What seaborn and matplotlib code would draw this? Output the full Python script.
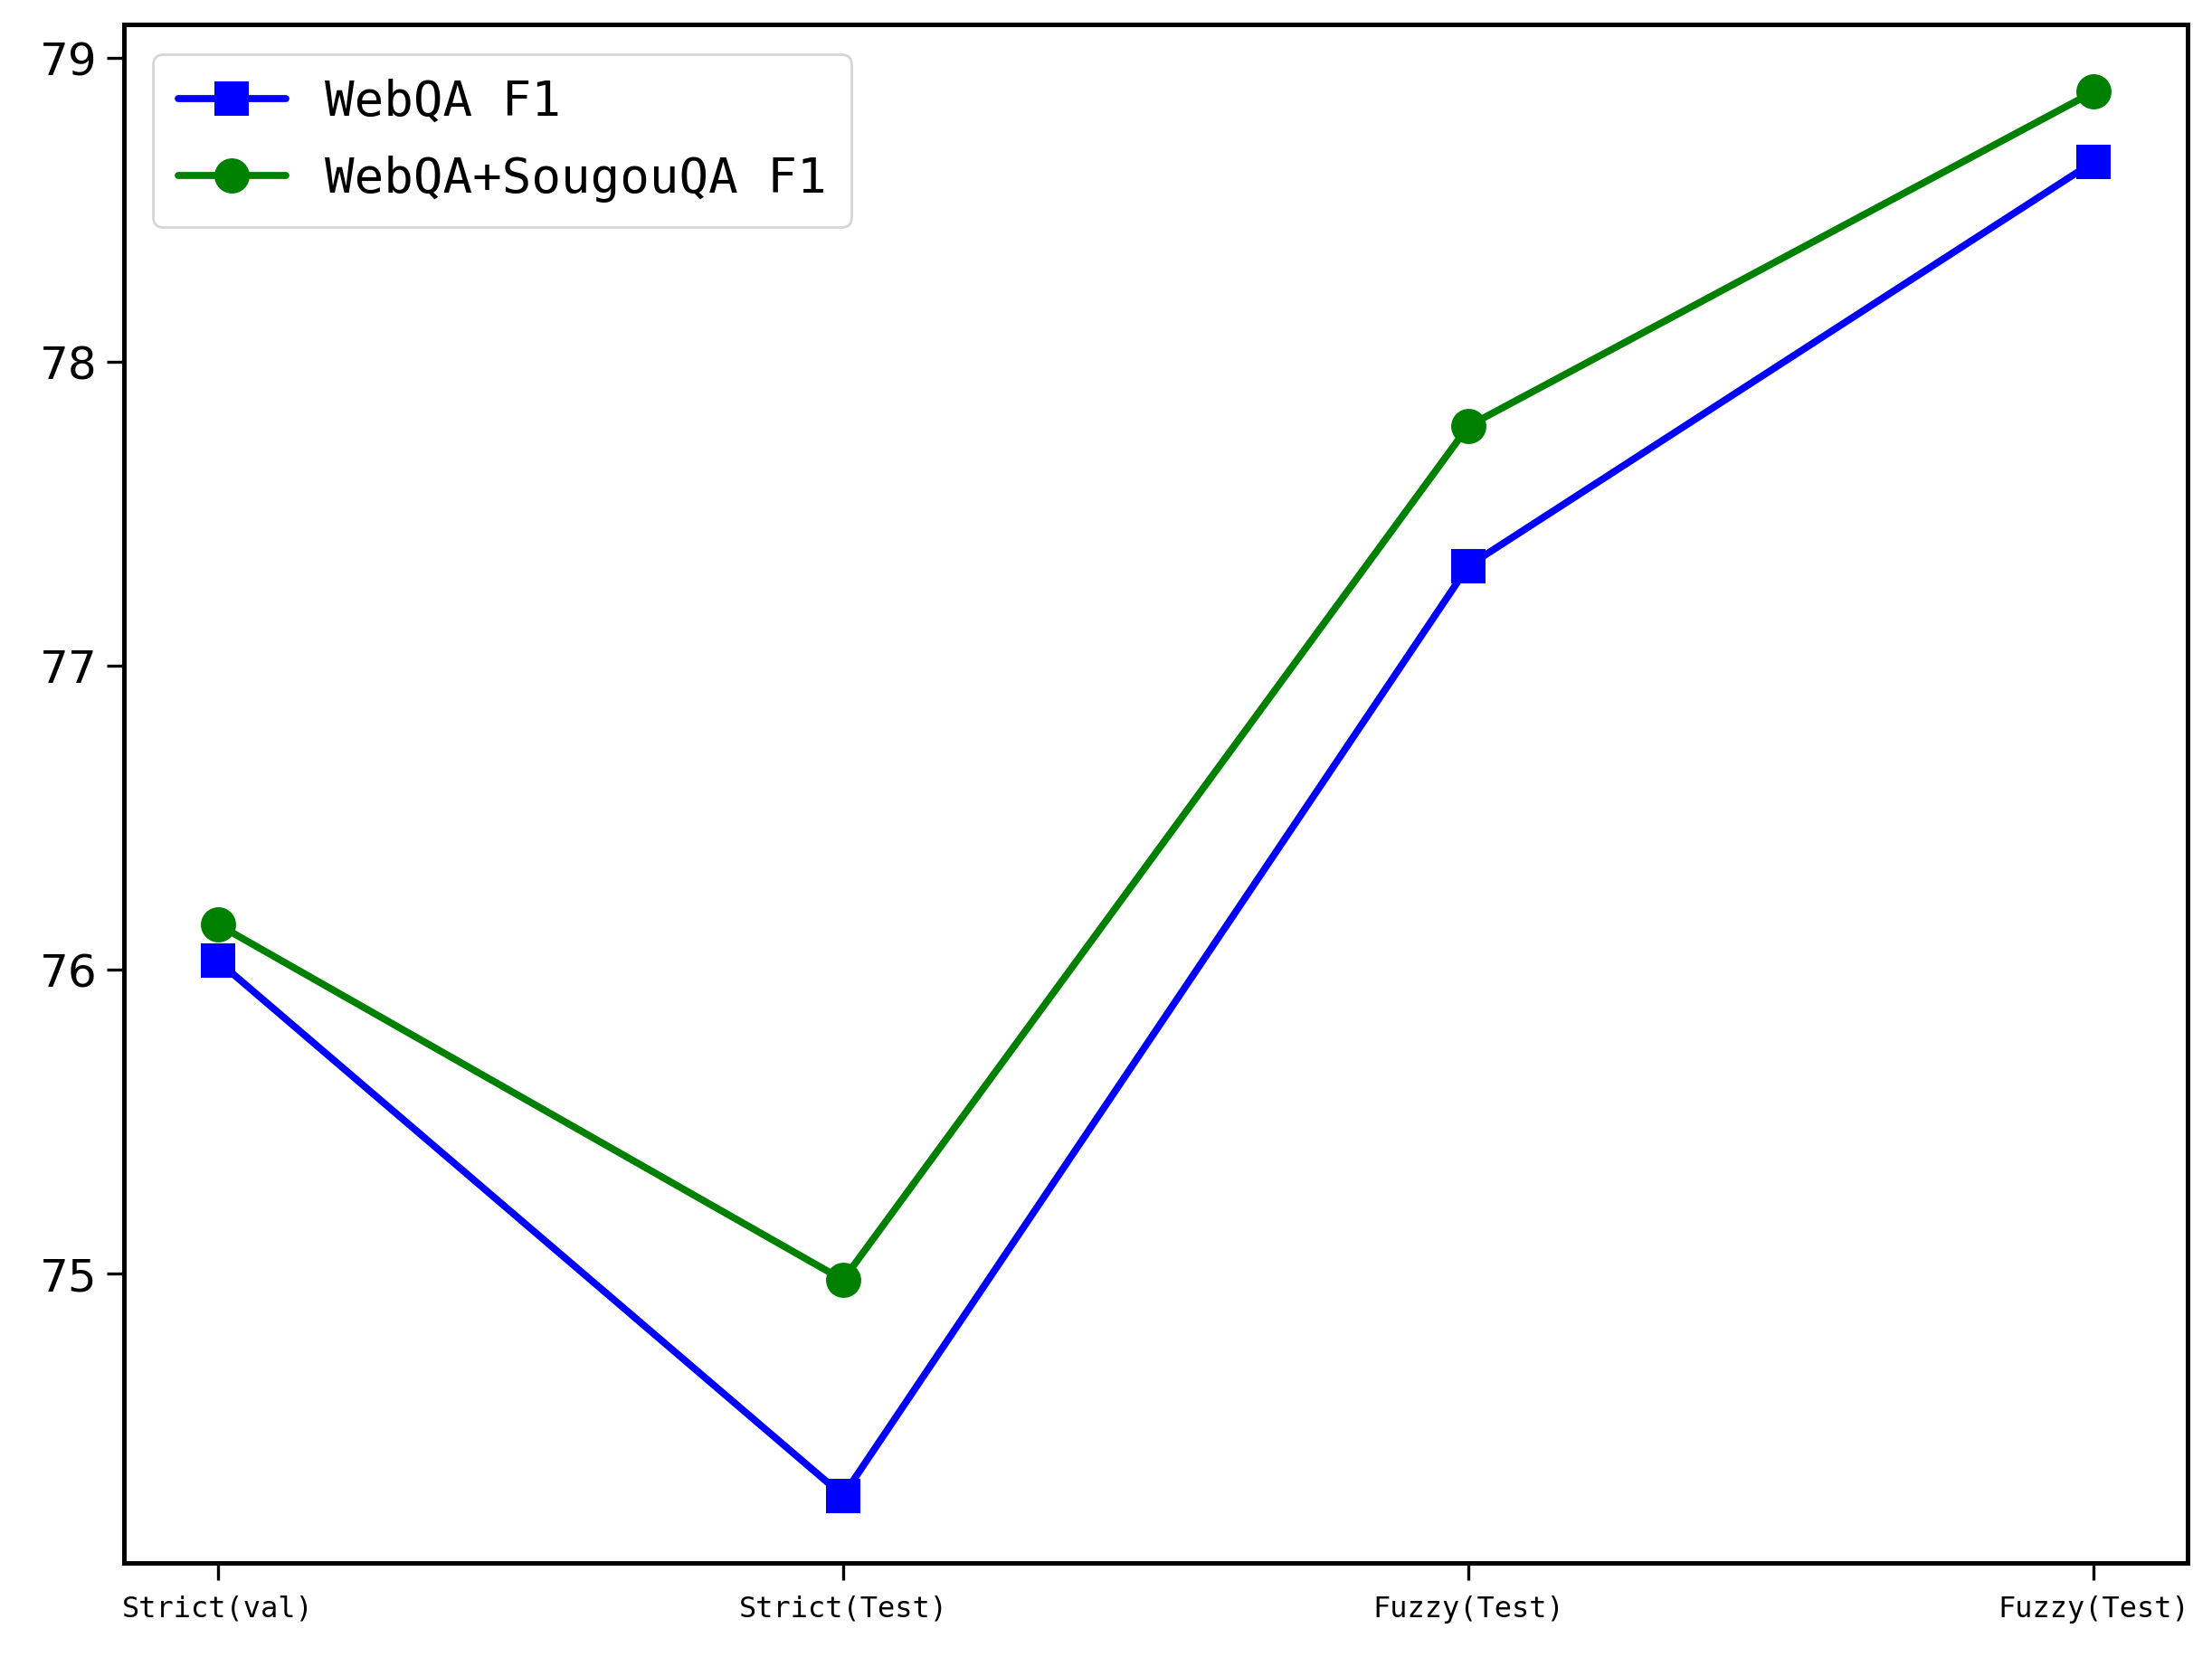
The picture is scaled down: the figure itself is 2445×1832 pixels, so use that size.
import pandas as pd
import numpy as np
import seaborn as sns
import matplotlib.pyplot as plt

categories = ['Strict(val)', 'Strict(Test)', 'Fuzzy(Test)', 'Fuzzy(Test)']
webqa_f1 = [76.03, 74.27, 77.33, 78.66]
webqa_sougou_f1 = [76.15, 74.98, 77.79, 78.89]
series_names = ['WebQA F1', 'WebQA+SougouQA F1']

rows = []
for name, vals in zip(series_names, [webqa_f1, webqa_sougou_f1]):
    for i, v in enumerate(vals):
        rows.append([i, v, name])
df = pd.DataFrame(rows, columns=['pos', 'f1', 'model'])

sns.set_style('ticks')
plt.rcParams['font.family'] = ['DejaVu Sans', 'Noto Sans CJK SC']
plt.rcParams['text.color'] = 'black'
plt.rcParams['xtick.color'] = 'black'
plt.rcParams['ytick.color'] = 'black'
plt.rcParams['xtick.labelcolor'] = 'black'
plt.rcParams['ytick.labelcolor'] = 'black'

fig, ax = plt.subplots(figsize=(12.225, 9.16), dpi=200)
fig.subplots_adjust(left=0.056, right=0.989, top=0.985, bottom=0.057)

sns.lineplot(data=df, x='pos', y='f1', hue='model', style='model',
             palette=['blue', 'green'], markers=['s', 'o'], dashes=False,
             linewidth=2.8, markersize=14, markeredgewidth=0, ax=ax)

ax.set_xticks(range(len(categories)))
ax.set_xticklabels(categories, fontsize=11.5, family='DejaVu Sans Mono')
ax.set_yticks([75, 76, 77, 78, 79])
ax.tick_params(axis='y', labelsize=18, length=7, width=1.2)
ax.tick_params(axis='x', length=7, width=1.2, pad=6)
ax.set_xlim(-0.15, 3.15)
ax.set_ylim(74.05, 79.11)
ax.set_xlabel('')
ax.set_ylabel('')
for s in ax.spines.values():
    s.set_visible(True)
    s.set_linewidth(1.8)
    s.set_color('black')

ax.legend(loc='upper left', prop={'family': 'DejaVu Sans Mono', 'size': 19.5},
          handlelength=2.2, borderpad=0.5, labelspacing=0.6,
          borderaxespad=0.6)

plt.savefig('out.png')
